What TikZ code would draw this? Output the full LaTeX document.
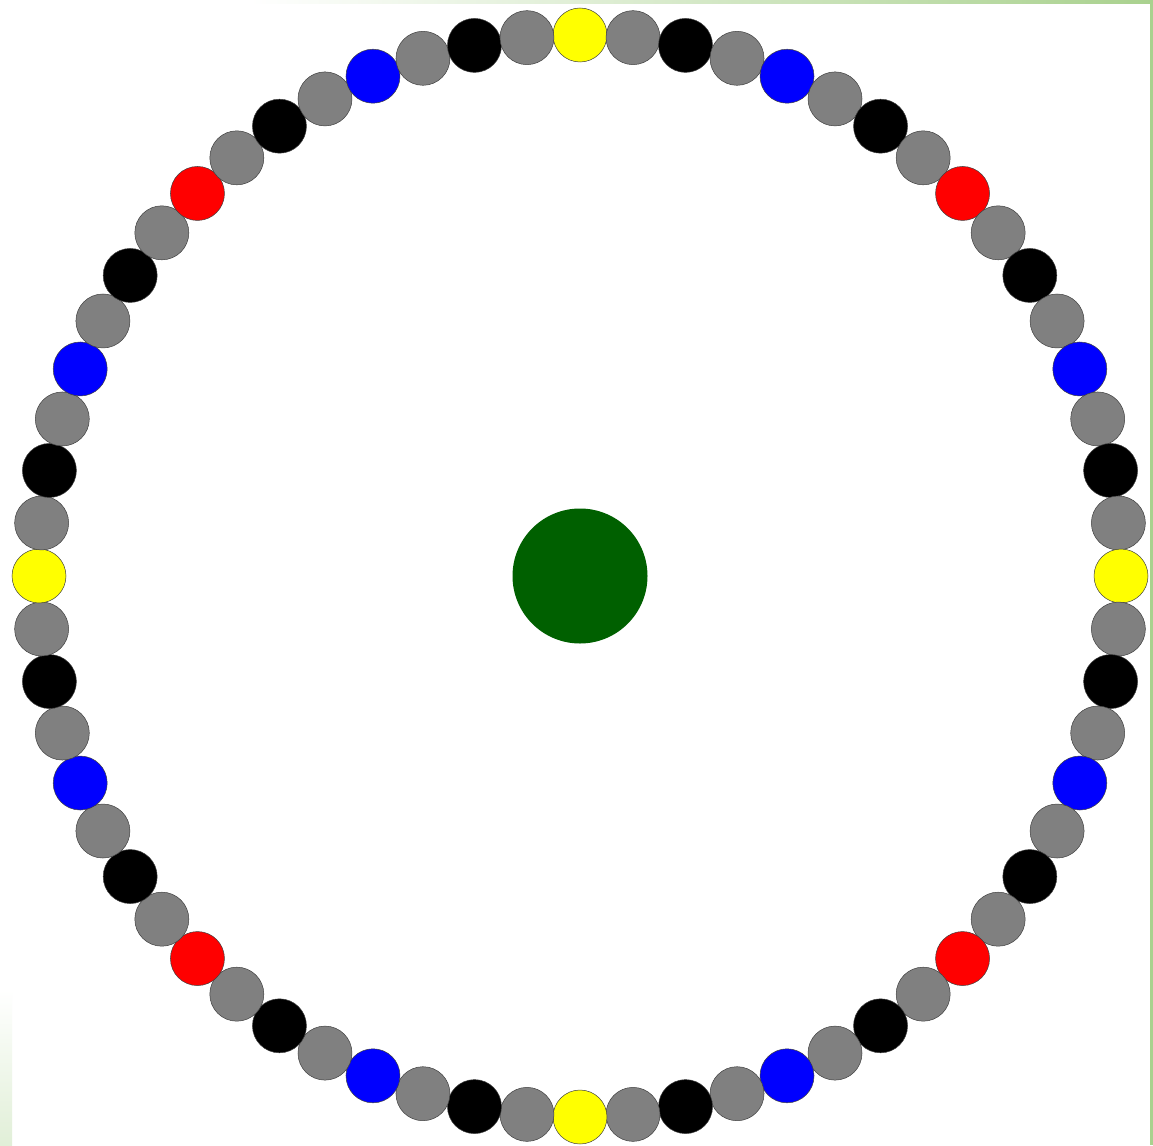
\documentclass[tikz,border=0pt]{standalone}
\definecolor{edgegreen}{HTML}{A9D18E}
\definecolor{centergreen}{HTML}{006000}
\definecolor{dotgray}{HTML}{808080}
\definecolor{dotyellow}{HTML}{FFFF00}
\definecolor{dotblue}{HTML}{0000FF}
\definecolor{dotred}{HTML}{FF0000}
\definecolor{dotblack}{HTML}{000000}
\tikzset{
  dot/.style={circle, minimum size=54pt, inner sep=0pt, draw=black!75, line width=0.5pt},
  hub/.style={circle, minimum size=135pt, inner sep=0pt, fill=centergreen}
}
\begin{document}
\begin{tikzpicture}[x=1pt,y=-1pt]
\useasboundingbox (0,0) rectangle (1153,1145);
\fill[white] (0,0) rectangle (1153,1145);
\shade[left color=white, right color=edgegreen] (250,0) rectangle (1153,3.5);
\fill[edgegreen] (1149.5,0) rectangle (1153,1145);
\shade[top color=white, bottom color=edgegreen!35] (0,990) rectangle (12,1145);
\node[hub] (c) at (580,576) {};
\foreach \i in {0,...,63}{
  \pgfmathtruncatemacro\m{mod(\i,16)}
  \ifcase\m \def\c{dotyellow}\or\def\c{dotgray}\or\def\c{dotblack}\or\def\c{dotgray}\or
    \def\c{dotblue}\or\def\c{dotgray}\or\def\c{dotblack}\or\def\c{dotgray}\or
    \def\c{dotred}\or\def\c{dotgray}\or\def\c{dotblack}\or\def\c{dotgray}\or
    \def\c{dotblue}\or\def\c{dotgray}\or\def\c{dotblack}\or\def\c{dotgray}\fi
  \node[dot, fill=\c] (d\i) at ({580+541*cos(90-\i*5.625)}, {576-541*sin(90-\i*5.625)}) {};
}
\end{tikzpicture}
\end{document}
